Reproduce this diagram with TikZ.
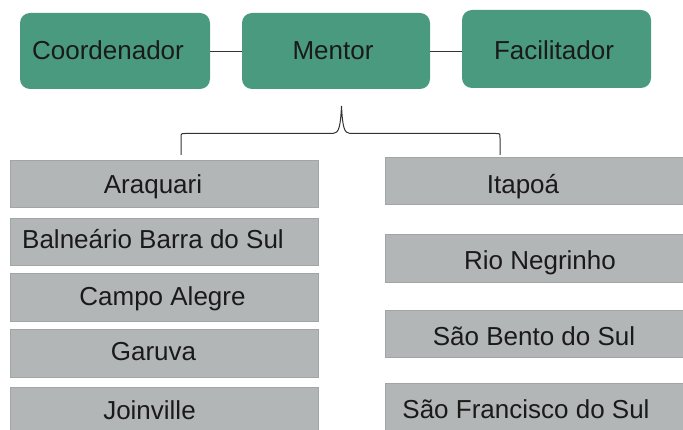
\documentclass[tikz,border=0pt]{standalone}
\usepackage{fontspec}
\setmainfont{Liberation Sans}
\definecolor{grn}{HTML}{4A9A80}
\definecolor{gbox}{HTML}{B3B6B6}
\definecolor{gedge}{HTML}{A0A5A5}
\definecolor{txt}{HTML}{1A1A1A}
\definecolor{ln}{HTML}{333333}
\begin{document}
\begin{tikzpicture}[x=1pt,y=-1pt,
  greenbox/.style={fill=grn,draw=none,rounded corners=10pt,inner sep=0pt},
  graybox/.style={fill=gbox,draw=gedge,line width=0.8pt,inner sep=0pt},
  lbl/.style={font=\fontsize{26}{30}\selectfont,text=txt,inner sep=0pt,anchor=base},
  conn/.style={draw=ln,line width=1pt}]
\useasboundingbox[fill=white] (0,0) rectangle (683,430);
% green boxes
\path[greenbox] (20,13) rectangle (210,89) coordinate (cbr);
\node[inner sep=0pt,minimum width=190pt,minimum height=76pt] (coord) at (115,51) {};
\path[greenbox] (242,13) rectangle (430,89);
\node[inner sep=0pt,minimum width=188pt,minimum height=76pt] (ment) at (336,51) {};
\path[greenbox] (462,10) rectangle (651,88);
\node[inner sep=0pt,minimum width=189pt,minimum height=78pt] (faci) at (556.5,49) {};
\node[lbl] (tcoord) at (108,60) {Coordenador};
\node[lbl] (tment) at (333,60) {Mentor};
\node[lbl] (tfaci) at (554,59.3) {Facilitador};
% connectors
\draw[conn] (coord.east |- 0,51.5) -- (ment.west |- 0,51.5);
\draw[conn] (ment.east |- 0,51.5) -- (faci.west |- 0,51.5);
% brace
\coordinate (bl) at (181,155);
\coordinate (br) at (500,155);
\coordinate (btip) at (341.5,106);
\draw[conn] (bl) -- (181,138) .. controls (181,133.5) .. (185,133.5) -- (333,133.5)
  .. controls (339,133.5) and (340.5,126) .. (btip)
  .. controls (342.5,126) and (344,133.5) .. (350,133.5) -- (496,133.5)
  .. controls (500,133.5) .. (500,138) -- (br);
% left boxes
\node[graybox,minimum width=308pt,minimum height=47pt] (l1) at (164,183.5) {};
\node[graybox,minimum width=308pt,minimum height=47pt] (l2) at (164,241.5) {};
\node[graybox,minimum width=308pt,minimum height=48pt] (l3) at (164,297) {};
\node[graybox,minimum width=308pt,minimum height=48pt] (l4) at (164,353) {};
\node[graybox,minimum width=308pt,minimum height=48pt] (l5) at (164,411) {};
\node[lbl] (tl1) at (153,193.3) {Araquari};
\node[lbl,anchor=base west] (tl2) at (22,249) {Balneário Barra do Sul};
\node[lbl] (tl3) at (162.5,306) {Campo Alegre};
\node[lbl] (tl4) at (153.5,360) {Garuva};
\node[lbl] (tl5) at (149.5,419.3) {Joinville};
% right boxes
\node[graybox,minimum width=301pt,minimum height=47pt] (r1) at (535.5,180.5) {};
\node[graybox,minimum width=301pt,minimum height=48pt] (r2) at (535.5,258) {};
\node[graybox,minimum width=301pt,minimum height=47pt] (r3) at (535.5,333.5) {};
\node[graybox,minimum width=301pt,minimum height=48pt] (r4) at (535.5,407) {};
\node[lbl] (tr1) at (523,194) {Itapoá};
\node[lbl] (tr2) at (540,270) {Rio Negrinho};
\node[lbl] (tr3) at (534,345) {São Bento do Sul};
\node[lbl] (tr4) at (526,418) {São Francisco do Sul};
\end{tikzpicture}
\end{document}
